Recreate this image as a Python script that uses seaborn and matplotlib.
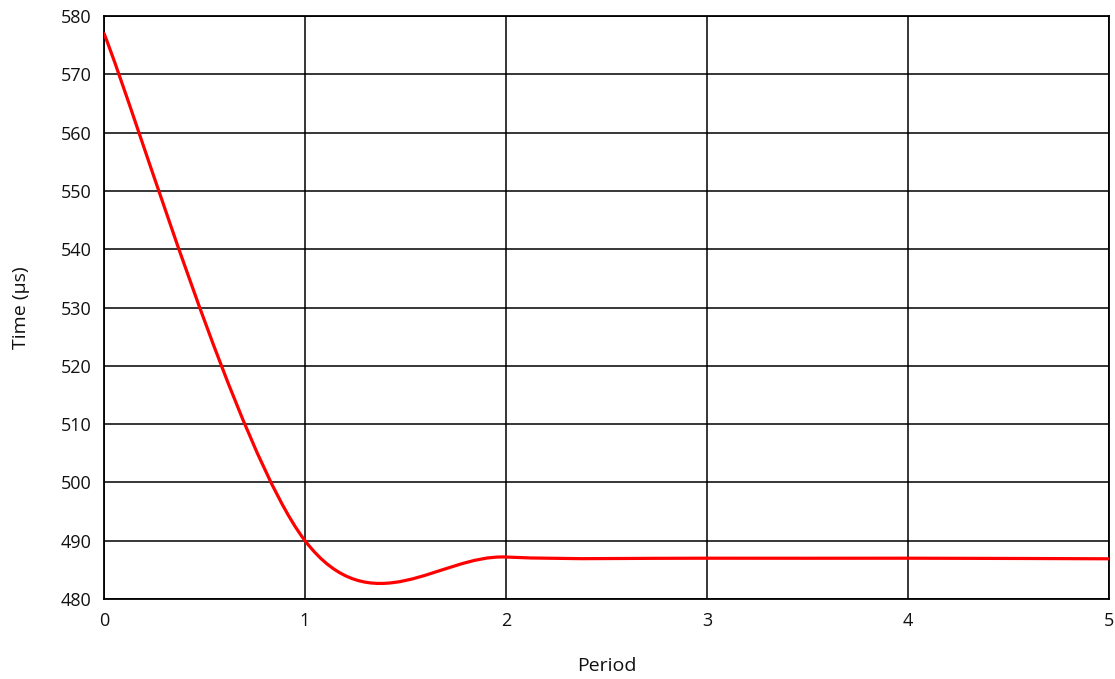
import matplotlib
matplotlib.use("Agg")
import matplotlib.pyplot as plt
from matplotlib.path import Path
from matplotlib.patches import PathPatch
import seaborn as sns
import numpy as np

period = [0, 1, 2, 3, 4, 5]
time_us = [577.0, 490.0, 487.2, 487.0, 487.0, 486.9]

sns.set_theme(style="white")
plt.rcParams['font.family'] = ['Open Sans', 'DejaVu Sans']

fig = plt.figure(figsize=(11.15, 6.79), dpi=100)
ax = fig.add_axes([0.0933, 0.1178, 0.9013, 0.8586])

# excel-style smoothed line: cubic bezier through the points
pts = np.column_stack([period, time_us]).astype(float)
n = len(pts)
verts = [pts[0]]
codes = [Path.MOVETO]
for i in range(n - 1):
    p0 = pts[max(i - 1, 0)]
    p1 = pts[i]
    p2 = pts[i + 1]
    p3 = pts[min(i + 2, n - 1)]
    verts += [p1 + (p2 - p0) / 6, p2 - (p3 - p1) / 6, p2]
    codes += [Path.CURVE4] * 3
ax.add_patch(PathPatch(Path(verts, codes), facecolor='none', edgecolor='#ff0000',
                       lw=2.3, capstyle='round', zorder=3))

ax.set_xlim(0, 5)
ax.set_ylim(480, 580)
ax.set_xticks(range(0, 6))
ax.set_yticks(range(480, 581, 10))
ax.grid(True, color='black', lw=1.1)
for s in ax.spines.values():
    s.set_color('black')
    s.set_linewidth(1.3)
ax.tick_params(length=0, labelsize=13, colors='#111111', pad=9)
ax.set_xlabel('Period', fontsize=14, labelpad=20, color='#111111')
ax.set_ylabel('Time (µs)', fontsize=14, labelpad=22, color='#111111')

fig.savefig('out.png', dpi=100, facecolor='white')
